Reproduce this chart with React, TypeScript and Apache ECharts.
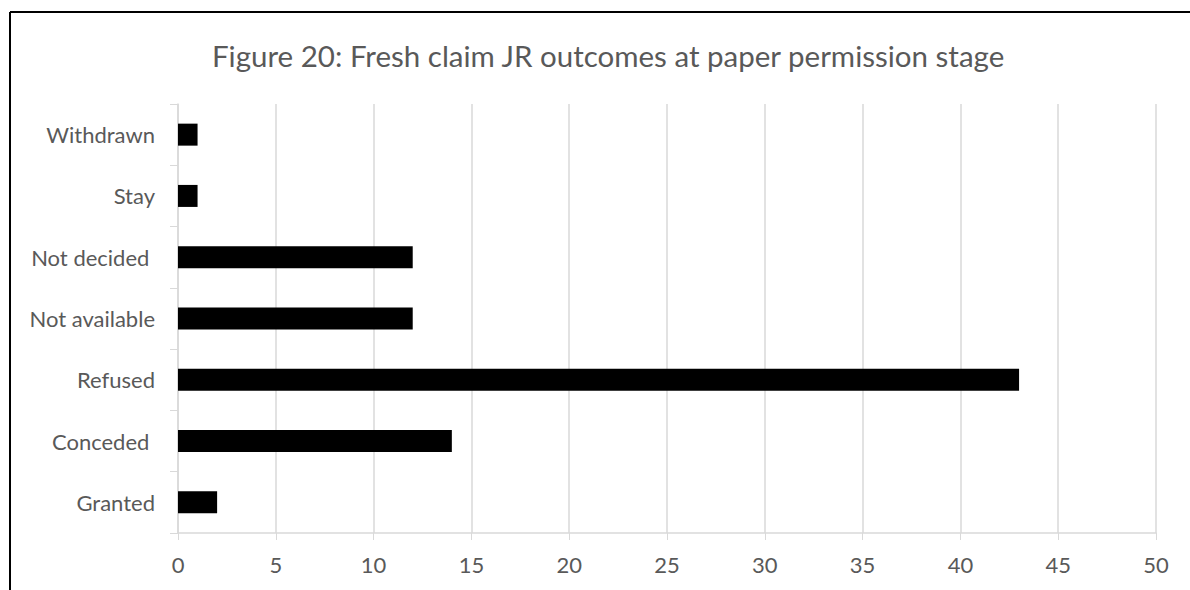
import React, { useEffect, useRef } from "react";
import * as echarts from "echarts";

const categories = ["Granted", "Conceded ", "Refused", "Not available", "Not decided ", "Stay", "Withdrawn"];
const values = [2, 14, 43, 12, 12, 1, 1];
const titleText = "Figure 20: Fresh claim JR outcomes at paper permission stage";

export default function App() {
  const ref = useRef<HTMLDivElement>(null);
  useEffect(() => {
    const chart = echarts.init(ref.current!, null, { renderer: "svg" });
    chart.setOption({
      animation: false,
      backgroundColor: "#ffffff",
      title: {
        text: titleText,
        left: 207,
        top: 35,
        textStyle: { fontFamily: "Lato", fontSize: 29.5, fontWeight: "normal", color: "#595959" },
      },
      graphic: [
        { type: "line", shape: { x1: 10, y1: 12, x2: 10, y2: 590 }, style: { stroke: "#000", lineWidth: 2 } },
        { type: "line", shape: { x1: 10, y1: 12, x2: 1190, y2: 12 }, style: { stroke: "#000", lineWidth: 2 } },
      ],
      grid: { left: 178, right: 34, top: 104, bottom: 57, containLabel: false },
      xAxis: {
        type: "value",
        min: 0,
        max: 50,
        interval: 5,
        axisLine: { show: true, lineStyle: { color: "#d9d9d9", width: 1.5 } },
        axisTick: { show: true, length: 7, lineStyle: { color: "#d9d9d9" } },
        axisLabel: { fontFamily: "Lato", fontSize: 22, color: "#595959", margin: 20 },
        splitLine: { show: true, lineStyle: { color: "#d9d9d9", width: 1.5 } },
      },
      yAxis: {
        type: "category",
        data: categories,
        axisLine: { show: true, lineStyle: { color: "#d9d9d9", width: 1.5 } },
        axisTick: { show: true, length: 8, lineStyle: { color: "#d9d9d9" } },
        axisLabel: { fontFamily: "Lato", fontSize: 22, color: "#595959", margin: 23 },
      },
      series: [
        {
          type: "bar",
          data: values,
          barWidth: 22,
          itemStyle: { color: "#000000" },
        },
      ],
    });
    return () => chart.dispose();
  }, []);
  return <div ref={ref} style={{ position: "absolute", left: 0, top: 0, width: 1190, height: 590 }} />;
}
